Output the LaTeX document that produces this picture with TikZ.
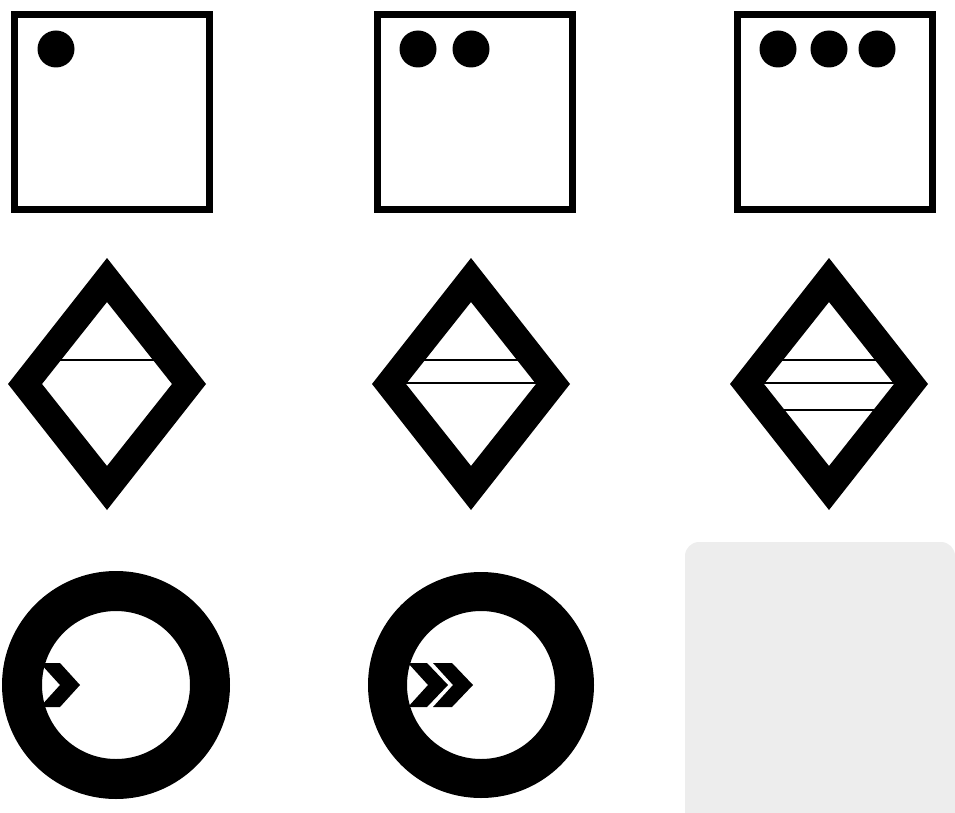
\documentclass[tikz,border=0pt]{standalone}
\begin{document}
\begin{tikzpicture}[x=1pt,y=-1pt,
  sqbox/.style={draw=black,line width=7pt,fill=white},
  dot/.style={fill=black},
  ring/.style={fill=black,even odd rule},
  hline/.style={draw=black,line width=1.6pt},
  chev/.style={fill=black},
  panel/.style={fill=black!7,draw=none,rounded corners=14pt}]
\useasboundingbox (0,0) rectangle (955,813);
% squares
\foreach \x in {14.5,377.5,737.5}{
  \draw[sqbox] (\x,14.5) rectangle (\x+195,209.5);
}
\fill[dot] (56,49) circle (18.5);
\fill[dot] (418,49) circle (18.5);
\fill[dot] (471,49) circle (18.5);
\fill[dot] (778,49) circle (18.5);
\fill[dot] (829,49) circle (18.5);
\fill[dot] (877,49) circle (18.5);
% diamonds: lines then ring
\draw[hline] (107-56,360) -- (107+56,360);
\draw[hline] (471-56,360) -- (471+56,360);
\draw[hline] (471-75,383) -- (471+75,383);
\draw[hline] (829-56,360) -- (829+56,360);
\draw[hline] (829-75,383) -- (829+75,383);
\draw[hline] (829-54,410) -- (829+54,410);
\foreach \cx in {107,471,829}{
  \fill[ring] (\cx,258) -- (\cx+99,384) -- (\cx,510) -- (\cx-99,384) -- cycle
              (\cx,302) -- (\cx+65,384) -- (\cx,466) -- (\cx-65,384) -- cycle;
}
% circles with chevrons
\fill[chev] (40,663) -- (60,663) -- (80,685) -- (60,707) -- (40,707) -- (60,685) -- cycle;
\fill[chev] (408,663) -- (427,663) -- (448,685) -- (427,707) -- (408,707) -- (428,685) -- cycle;
\fill[chev] (433,663) -- (452,663) -- (473,685) -- (452,707) -- (433,707) -- (453,685) -- cycle;
\fill[ring] (116,685) circle (114) (116,685) circle (74);
\fill[ring] (481,685) circle (113) (481,685) circle (74);
% gray panel
\fill[panel] (685,542) rectangle (955,830);
\end{tikzpicture}
\end{document}
